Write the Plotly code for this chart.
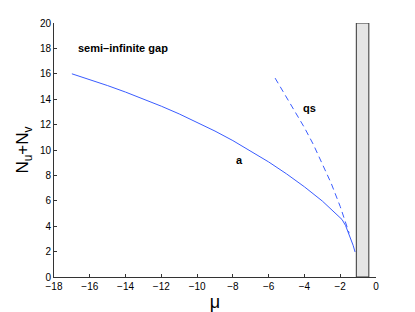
import plotly.graph_objects as go

# curve "a" (solid)
a_mu = [-17, -16, -15, -14, -13, -12, -11, -10, -9, -8, -7, -6, -5, -4, -3, -2.5,
        -1.9, -1.7, -1.55, -1.4, -1.28, -1.17]
a_N = [16.0, 15.55, 15.07, 14.56, 14.02, 13.45, 12.84, 12.19, 11.49, 10.74, 9.93, 9.06, 8.12, 7.10,
       5.98, 5.33, 4.53, 4.05, 3.55, 3.0, 2.5, 1.97]

# curve "qs" (dashed)
qs_mu = [-5.64, -5.0, -4.62, -4.0, -3.5, -3.0, -2.5, -2.0, -1.75, -1.55, -1.5]
qs_N = [15.66, 14.14, 13.2, 11.76, 10.43, 8.96, 7.36, 5.55, 4.55, 3.69, 3.45]

# band (gray rectangle)
band_mu = [-1.1, -0.4]
band_N = [0, 20]

x_ticks = [-18, -16, -14, -12, -10, -8, -6, -4, -2, 0]
x_labels = ["\u221218", "\u221216", "\u221214", "\u221212", "\u221210", "\u22128", "\u22126", "\u22124", "\u22122", "0"]
y_ticks = [0, 2, 4, 6, 8, 10, 12, 14, 16, 18, 20]

line_color = "#3a5cff"

fig = go.Figure()
fig.add_trace(go.Scatter(x=a_mu, y=a_N, mode="lines",
                         line=dict(color=line_color, width=1), showlegend=False))
fig.add_trace(go.Scatter(x=qs_mu, y=qs_N, mode="lines",
                         line=dict(color=line_color, width=1, dash="6px,4px"), showlegend=False))

fig.add_shape(type="rect", xref="x", yref="y",
              x0=band_mu[0], x1=band_mu[1], y0=band_N[0], y1=band_N[1],
              fillcolor="#e5e5e5", line=dict(color="#333333", width=1), layer="above")

font_fam = "Liberation Sans, Arial, sans-serif"
fig.add_annotation(x=-16.75, y=18, text="<b>semi\u2013infinite gap</b>", showarrow=False,
                   xanchor="left", yanchor="middle", font=dict(size=11, color="black", family=font_fam))
fig.add_annotation(x=-3.73, y=13.34, text="<b>qs</b>", showarrow=False,
                   xanchor="center", yanchor="middle", font=dict(size=11, color="black", family=font_fam))
fig.add_annotation(x=-7.65, y=9.2, text="<b>a</b>", showarrow=False,
                   xanchor="center", yanchor="middle", font=dict(size=11, color="black", family=font_fam))

# the page body adds an 8px offset, so the figure is sized to fit the window
fig.update_layout(
    width=407, height=304,
    margin=dict(l=46, r=39, t=15, b=35),
    paper_bgcolor="white", plot_bgcolor="white",
    font=dict(family=font_fam, size=10, color="black"),
    xaxis=dict(range=[-18, 0], tickvals=x_ticks, ticktext=x_labels, automargin=False,
               showgrid=False, zeroline=False, showline=True, linecolor="#333333", linewidth=1,
               ticks="inside", ticklen=3, tickcolor="#333333",
               title=dict(text="\u03bc", font=dict(size=18), standoff=4)),
    yaxis=dict(range=[0, 20], tickvals=y_ticks, automargin=False,
               showgrid=False, zeroline=False, showline=True, linecolor="#333333", linewidth=1,
               ticks="inside", ticklen=3, tickcolor="#333333",
               title=dict(text="N<sub>u</sub>+N<sub>v</sub>", font=dict(size=17), standoff=6)),
)

fig.write_html("out.html")
